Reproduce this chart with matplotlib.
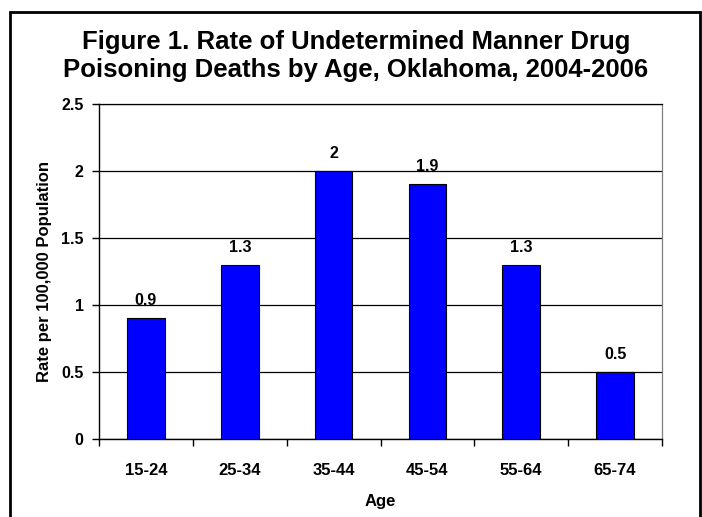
import matplotlib

matplotlib.use("Agg")
import matplotlib.pyplot as plt
from matplotlib.patches import Rectangle

ages = ["15-24", "25-34", "35-44", "45-54", "55-64", "65-74"]
rates = [0.9, 1.3, 2.0, 1.9, 1.3, 0.5]
rate_labels = ["0.9", "1.3", "2", "1.9", "1.3", "0.5"]
y_ticks = [0, 0.5, 1, 1.5, 2, 2.5]
y_tick_labels = ["0", "0.5", "1", "1.5", "2", "2.5"]

plt.rcParams["font.family"] = ["Liberation Sans", "DejaVu Sans"]
plt.rcParams["font.weight"] = "bold"

W, H = 702, 517
fig = plt.figure(figsize=(W / 100, H / 100), dpi=100)
ax = fig.add_axes([99 / W, 1 - 439 / H, (662 - 99) / W, (439 - 104) / H])

# outer chart border (bottom edge runs off the image)
fig.patches.append(
    Rectangle((10 / W, -0.01), (700 - 10) / W, 1.01 - 12 / H,
              transform=fig.transFigure, fill=False, edgecolor="black",
              linewidth=2.0)
)

x = list(range(len(ages)))
ax.bar(x, rates, width=0.4, color="#0000ff", edgecolor="black",
       linewidth=0.8, zorder=3)
for xi, r, lab in zip(x, rates, rate_labels):
    ax.text(xi, r + 0.075, lab, ha="center", va="bottom", fontsize=11.5,
            fontweight="bold", zorder=4)

ax.set_xlim(-0.5, len(ages) - 0.5)
ax.set_ylim(0, 2.5)
ax.set_yticks(y_ticks)
ax.set_yticklabels(y_tick_labels, fontsize=11.5, fontweight="bold")
ax.set_xticks(x)
ax.set_xticklabels(ages, fontsize=12, fontweight="bold")
ax.tick_params(axis="x", length=0, pad=17)
ax.set_xticks([i - 0.5 for i in range(len(ages) + 1)], minor=True)
ax.tick_params(axis="x", which="minor", length=5, width=1, direction="out")
ax.tick_params(axis="y", length=5, width=1, direction="out", pad=6)
ax.yaxis.grid(True, color="black", linewidth=0.9, zorder=0)
ax.set_axisbelow(True)
ax.spines["top"].set_linewidth(0.9)
ax.spines["right"].set_linewidth(0.9)
ax.spines["right"].set_color("#808080")
ax.spines["left"].set_linewidth(1.0)
ax.spines["bottom"].set_linewidth(1.0)

ax.set_xlabel("Age", fontsize=12, fontweight="bold", labelpad=12)
ax.set_ylabel("Rate per 100,000 Population", fontsize=12, fontweight="bold",
              labelpad=7)

fig.text(356 / W, 1 - 56 / H,
         "Figure 1. Rate of Undetermined Manner Drug\n"
         "Poisoning Deaths by Age, Oklahoma, 2004-2006",
         ha="center", va="center", fontsize=18.5, fontweight="bold",
         linespacing=1.2)

fig.savefig("out.png", dpi=100)
plt.close(fig)
